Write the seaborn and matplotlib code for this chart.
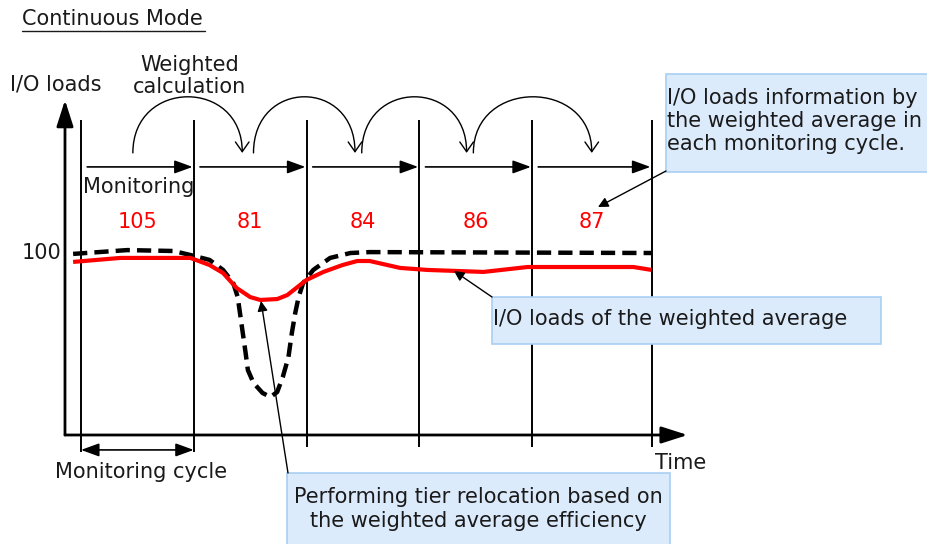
import matplotlib
matplotlib.use("Agg")
import matplotlib.pyplot as plt
from matplotlib.patches import FancyArrowPatch, Rectangle
from matplotlib.path import Path
import seaborn as sns

# monitoring cycle boundaries on the time axis (in cycles)
cycle_edges = [0, 1, 2, 3, 4, 5.06]
# weighted-average I/O load shown for each cycle
cycle_values = ["105", "81", "84", "86", "87"]

# actual I/O loads (black dashed curve)
time_actual = [-0.07, 0.41, 0.82, 0.97, 1.14, 1.26, 1.35, 1.39, 1.41, 1.44, 1.46, 1.48,
               1.53, 1.61, 1.68, 1.74, 1.79, 1.84, 1.87, 1.90, 1.93, 1.97, 2.06, 2.21,
               2.39, 2.56, 5.06]
load_actual = [99.5, 101.6, 101.1, 98.9, 96.2, 90.7, 83.5, 75.8, 67.0, 53.8, 45.1, 35.7,
               28.6, 23.1, 20.9, 23.6, 31.9, 42.9, 56.0, 67.0, 75.8, 83.5, 90.7, 97.3,
               100, 100.5, 100]

# weighted average I/O loads (red curve)
time_weighted = [-0.07, 0.35, 0.97, 1.14, 1.26, 1.38, 1.50, 1.59, 1.74, 1.83, 1.92,
                 2.00, 2.15, 2.32, 2.45, 2.56, 2.83, 3.07, 3.57, 3.96, 4.90, 5.06]
load_weighted = [95.1, 97.3, 97.3, 93.4, 89.0, 80.8, 75.8, 74.2, 74.7, 76.9, 81.3,
                 85.2, 89.6, 93.4, 95.6, 95.6, 91.8, 90.7, 89.6, 92.3, 92.3, 90.7]

# weighted calculation hops (start, end) in cycles
calc_hops = [(0.46, 1.43), (1.53, 2.43), (2.49, 3.42), (3.48, 4.53)]

W, H = 927, 544
X0, PX_T = 81, 112.75     # pixel of t=0, pixels per cycle
Y0, PX_L = 435, 1.82      # pixel of load=0, pixels per load unit

sns.set_style("white")
plt.rcParams['font.family'] = ['DejaVu Sans']
TXT = '#1a1a1a'
FS = 15

fig = plt.figure(figsize=(W / 100, H / 100), dpi=100)
ax = fig.add_axes([0, 0, 1, 1])
ax.set_xlim(-X0 / PX_T, (W - X0) / PX_T)
ax.set_ylim((Y0 - H) / PX_L, Y0 / PX_L)
ax.axis('off')

# curves
sns.lineplot(x=time_actual, y=load_actual, ax=ax, color='black', lw=3.2,
             linestyle=(0, (3.2, 1.6)), zorder=3, dash_joinstyle='round')
sns.lineplot(x=time_weighted, y=load_weighted, ax=ax, color='#ff0000', lw=3.0,
             zorder=4, solid_capstyle='butt', solid_joinstyle='round')

# axes with arrows
y_axis_t = -0.142
ax.add_patch(FancyArrowPatch((y_axis_t, 0), (y_axis_t, 184), arrowstyle='-|>,head_length=1.0,head_width=0.32',
                             mutation_scale=16, lw=2, color='black', shrinkA=0, shrinkB=0))
ax.add_patch(FancyArrowPatch((y_axis_t, 0), (5.38, 0), arrowstyle='-|>,head_length=1.0,head_width=0.32',
                             mutation_scale=16, lw=2, color='black', shrinkA=0, shrinkB=0))

# cycle boundaries
bottoms = [-9.5, -9.5, -6.6, -6.6, -6.6, -6.6]
ax.vlines(cycle_edges, bottoms, 173, color='black', lw=1.4)

# monitoring arrows per cycle
for i in range(len(cycle_values)):
    ax.add_patch(FancyArrowPatch((cycle_edges[i] + 0.055, 147.3), (cycle_edges[i + 1] - 0.01, 147.3),
                                 arrowstyle='-|>,head_length=1.1,head_width=0.4', mutation_scale=10,
                                 lw=1.2, color='black', shrinkA=0, shrinkB=0))
    mid = (cycle_edges[i] + cycle_edges[i + 1]) / 2
    ax.text(mid, 117, cycle_values[i], color='#ff0000', ha='center', va='center', fontsize=FS)

# weighted calculation arcs
for a, b in calc_hops:
    p = Path([(a, 155), (a, 196), (b, 196), (b, 155)],
             [Path.MOVETO, Path.CURVE4, Path.CURVE4, Path.CURVE4])
    ax.add_patch(FancyArrowPatch(path=p, arrowstyle='->,head_length=0.5,head_width=0.35',
                                 mutation_scale=14, lw=1.0, color='black'))

# monitoring cycle bracket
ax.add_patch(FancyArrowPatch((cycle_edges[0], -8.2), (cycle_edges[1], -8.2),
                             arrowstyle='<|-|>,head_length=1.1,head_width=0.4', mutation_scale=10,
                             lw=1.2, color='black', shrinkA=0, shrinkB=0))

ax.text(-0.17, 100, "100", ha='right', va='center', fontsize=FS, color=TXT)

# overlay in pixel coordinates for labels and callouts
ov = fig.add_axes([0, 0, 1, 1])
ov.set_xlim(0, W)
ov.set_ylim(H, 0)
ov.axis('off')
ov.patch.set_alpha(0)

ov.text(22, 19, "Continuous Mode", ha='left', va='center', fontsize=FS, color=TXT)
ov.plot([22, 205], [31, 31], color=TXT, lw=1)
ov.text(10, 85, "I/O loads", ha='left', va='center', fontsize=FS, color=TXT)
ov.text(190, 76, "Weighted\ncalculation", ha='center', va='center', fontsize=FS, color=TXT,
        linespacing=1.16)
ov.text(83, 187, "Monitoring", ha='left', va='center', fontsize=FS, color=TXT)
ov.text(655, 463, "Time", ha='left', va='center', fontsize=FS, color=TXT)
ov.text(141, 472, "Monitoring cycle", ha='center', va='center', fontsize=FS, color=TXT)

box_face, box_edge = '#dcebfc', '#a9cff2'
# callout 1
ov.add_patch(Rectangle((666, 74), 270, 98, facecolor=box_face, edgecolor=box_edge, lw=1.2, zorder=5))
ov.text(667, 121, "I/O loads information by\nthe weighted average in\neach monitoring cycle.",
        ha='left', va='center', fontsize=FS, color=TXT, linespacing=1.21, zorder=6)
ov.add_patch(FancyArrowPatch((666, 171), (598, 207), arrowstyle='-|>,head_length=0.6,head_width=0.3',
                             mutation_scale=10, lw=1, color='black', shrinkA=0, shrinkB=0, zorder=6))
# callout 2
ov.add_patch(Rectangle((492, 297), 389, 47, facecolor=box_face, edgecolor=box_edge, lw=1.2, zorder=5))
ov.text(493, 319, "I/O loads of the weighted average", ha='left', va='center', fontsize=FS,
        color=TXT, zorder=6)
ov.add_patch(FancyArrowPatch((492, 297), (454, 271), arrowstyle='-|>,head_length=0.6,head_width=0.3',
                             mutation_scale=10, lw=1, color='black', shrinkA=0, shrinkB=0, zorder=6))
# callout 3
ov.add_patch(Rectangle((287, 473), 383, 80, facecolor=box_face, edgecolor=box_edge, lw=1.2, zorder=5))
ov.text(478, 509, "Performing tier relocation based on\nthe weighted average efficiency",
        ha='center', va='center', fontsize=FS, color=TXT, linespacing=1.3, zorder=6)
ov.add_patch(FancyArrowPatch((288, 473), (261, 301), arrowstyle='-|>,head_length=0.6,head_width=0.3',
                             mutation_scale=10, lw=1, color='black', shrinkA=0, shrinkB=0, zorder=6))

fig.savefig("out.png", dpi=100)
